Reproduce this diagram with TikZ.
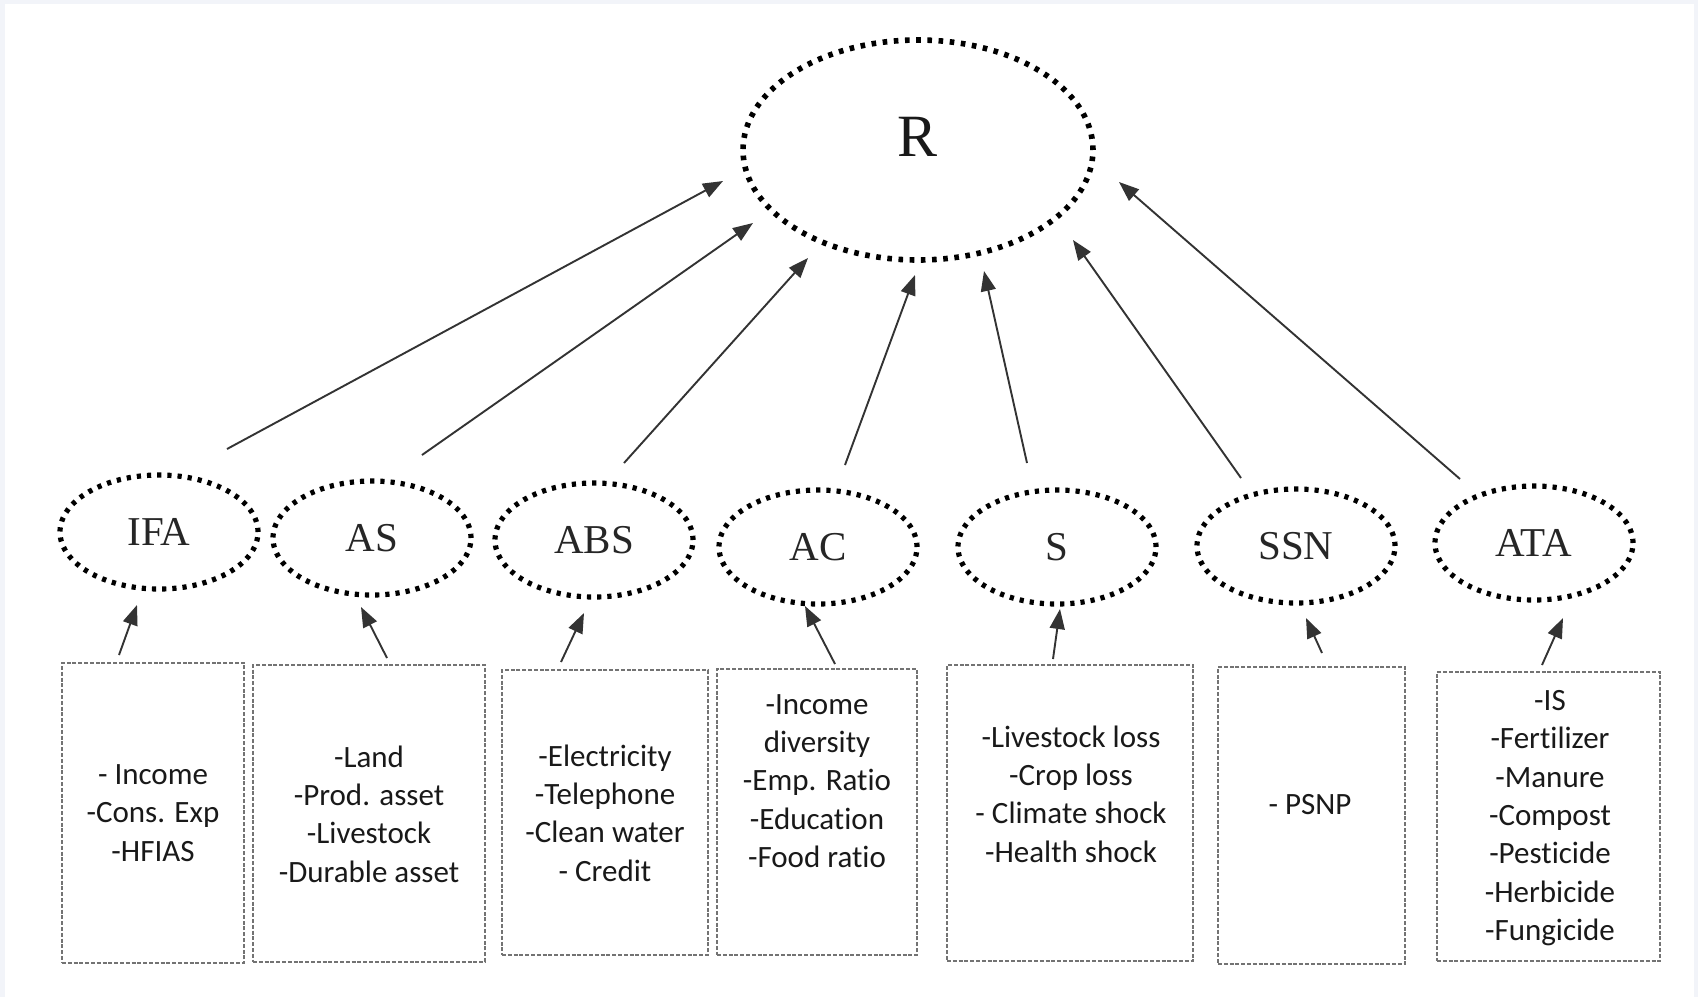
\documentclass[tikz,border=0pt]{standalone}
\usepackage{fontspec}
\setmainfont{Liberation Serif}
\newfontfamily\boxfont[Ligatures=NoCommon]{Carlito}
\usetikzlibrary{arrows.meta,shapes.geometric}
\definecolor{framegray}{HTML}{F2F4F9}
\begin{document}
\begin{tikzpicture}[x=0.5pt,y=-0.5pt,
  bigell/.style={ellipse, draw=black, line width=2.8pt, dash pattern=on 2.3pt off 3.3pt,
    minimum width=175pt, minimum height=110pt, inner sep=0pt},
  rlabel/.style={inner sep=0pt, font=\fontsize{30}{36}\selectfont, text=black!90},
  smallell/.style={ellipse, draw=black, line width=2.6pt, dash pattern=on 2.1pt off 3pt,
    minimum width=99pt, minimum height=57pt, inner sep=0pt,
    font=\fontsize{20.5}{24}\selectfont, text=black!85},
  ibox/.style={draw=black!55, line width=0.9pt, dash pattern=on 2pt off 0.9pt, inner sep=0pt},
  itext/.style={align=center, font=\boxfont\fontsize{15.5}{19.2}\selectfont, text=black!90, inner sep=0pt},
  arr/.style={-{Triangle[length=10pt,width=7.5pt]}, line width=0.95pt, draw=black!80}
]
\useasboundingbox (0,0) rectangle (1698,997);
\fill[framegray] (0,0) rectangle (1698,997);
\fill[white] (5,4) rectangle (1694,997);

% top node
\node[bigell] (R) at (918,150) {};
\node[rlabel] (Rl) at (918,137) {R};

% middle ellipses
\node[smallell] (IFA) at (159,532) {IFA};
\node[smallell] (AS)  at (372,538) {AS};
\node[smallell] (ABS) at (594,540) {ABS};
\node[smallell] (AC)  at (818,547) {AC};
\node[smallell] (S)   at (1057,547) {S};
\node[smallell] (SSN) at (1296,546) {SSN};
\node[smallell] (ATA) at (1534,543) {ATA};

% boxes
\node[ibox, minimum width=91pt,  minimum height=150pt]   (IFAb) at (153,813) {};
\node[ibox, minimum width=116pt, minimum height=148.5pt] (ASb)  at (369,813.5) {};
\node[ibox, minimum width=103pt, minimum height=142.5pt] (ABSb) at (605,812.5) {};
\node[ibox, minimum width=100pt, minimum height=143pt]   (ACb)  at (817,812) {};
\node[ibox, minimum width=123pt, minimum height=148pt]   (Sb)   at (1070,813) {};
\node[ibox, minimum width=93.5pt, minimum height=148.5pt] (SSNb) at (1311.5,815.5) {};
\node[ibox, minimum width=111.5pt, minimum height=144.5pt] (ATAb) at (1548.5,816.5) {};

% box texts
\node[itext] (IFAt) at (153,813) {- Income\\-Cons. Exp\\-HFIAS};
\node[itext] (ASt)  at (369,814) {-Land\\-Prod. asset\\-Livestock\\-Durable asset};
\node[itext] (ABSt) at (605,813) {-Electricity\\-Telephone\\-Clean water\\- Credit};
\node[itext] (ACt)  at (817,781) {-Income\\diversity\\-Emp. Ratio\\-Education\\-Food ratio};
\node[itext] (St)   at (1071,794) {-Livestock loss\\-Crop loss\\- Climate shock\\-Health shock};
\node[itext] (SSNt) at (1310,805) {- PSNP};
\node[itext] (ATAt) at (1550,818) {-IS\\-Fertilizer\\-Manure\\-Compost\\-Pesticide\\-Herbicide\\-Fungicide};

% arrow end points (gaps as in the picture)
\coordinate (IFAo) at (227,449);  \coordinate (IFAi) at (723,181);
\coordinate (ASo)  at (422,455);  \coordinate (ASi)  at (753,223);
\coordinate (ABSo) at (624,463);  \coordinate (ABSi) at (808,258);
\coordinate (ACo)  at (845,465);  \coordinate (ACi)  at (915,275);
\coordinate (So)   at (1027,463); \coordinate (Si)   at (984,271);
\coordinate (SSNo) at (1241,478); \coordinate (SSNi) at (1073,240);
\coordinate (ATAo) at (1460,479); \coordinate (ATAi) at (1119,182);

\draw[arr] (IFAo) -- (IFAi);
\draw[arr] (ASo) -- (ASi);
\draw[arr] (ABSo) -- (ABSi);
\draw[arr] (ACo) -- (ACi);
\draw[arr] (So) -- (Si);
\draw[arr] (SSNo) -- (SSNi);
\draw[arr] (ATAo) -- (ATAi);

% box -> ellipse arrows
\coordinate (IFAbo) at (119,655);  \coordinate (IFAbi) at (137,605);
\coordinate (ASbo)  at (387,658);  \coordinate (ASbi)  at (361,607);
\coordinate (ABSbo) at (561,662);  \coordinate (ABSbi) at (584,613);
\coordinate (ACbo)  at (835,664);  \coordinate (ACbi)  at (805,606);
\coordinate (Sbo)   at (1053,659); \coordinate (Sbi)   at (1060,609);
\coordinate (SSNbo) at (1322,653); \coordinate (SSNbi) at (1306,618);
\coordinate (ATAbo) at (1542,665); \coordinate (ATAbi) at (1563,618);

\draw[arr] (IFAbo) -- (IFAbi);
\draw[arr] (ASbo) -- (ASbi);
\draw[arr] (ABSbo) -- (ABSbi);
\draw[arr] (ACbo) -- (ACbi);
\draw[arr] (Sbo) -- (Sbi);
\draw[arr] (SSNbo) -- (SSNbi);
\draw[arr] (ATAbo) -- (ATAbi);
\end{tikzpicture}
\end{document}
